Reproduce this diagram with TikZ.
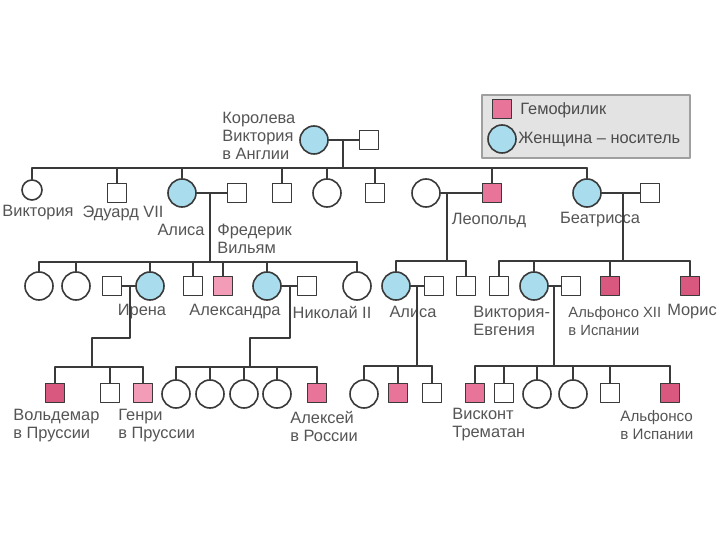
\documentclass[tikz,border=0pt]{standalone}
\usepackage{fontspec}
\setmainfont{Liberation Sans}
\definecolor{carrier}{HTML}{A9DDEE}
\definecolor{haemo}{HTML}{E8749A}
\definecolor{haemolt}{HTML}{F29CB8}
\definecolor{haemodk}{HTML}{D9587F}
\definecolor{linec}{HTML}{3A3A3A}
\definecolor{txt}{HTML}{555555}

\begin{document}
\begin{tikzpicture}[x=0.5bp,y=-0.5bp,line cap=round,line join=round,
    lin/.style={draw=linec,line width=0.8bp},
    male/.style={lin,rectangle,fill=white,minimum size=9.5bp,inner sep=0pt},
    fem/.style={lin,circle,fill=white,minimum size=14bp,inner sep=0pt},
    sick/.style={male,fill=haemo},
    carr/.style={fem,fill=carrier},
    lbl/.style={text=txt,font=\fontsize{8.2bp}{9bp}\selectfont,inner sep=0pt,align=left}]

\fill[white] (0,0) rectangle (720,540);
\useasboundingbox (0,0) rectangle (720,540);

% legend
\draw[fill=gray!22,draw=gray!75,line width=0.8bp] (482,95) rectangle (690,158);
\node[sick] (keym) at (502,109) {};
\node[carr] (keyf) at (502,139) {};
\node[lbl,anchor=west,text=black!70] (keymt) at (520,110) {Гемофилик};
\node[lbl,anchor=west,text=black!70] (keyft) at (518,139) {Женщина – носитель};

% generation 0
\node[carr] (qvic) at (314,140) {};
\node[male] (qalb) at (369,140) {};
\node[lbl,anchor=west] (qlab) at (222,136) {Королева\\Виктория\\в Англии};
\coordinate (j0) at (343,140);
\coordinate (b0) at (343,168);
\draw[lin] (qvic) -- (qalb);
\draw[lin] (j0) -- (b0);

% generation 1
\node[fem,minimum size=10bp] (vict) at (32,190) {};
\node[male] (edw) at (117,193) {};
\node[carr] (alice) at (182,193) {};
\node[male] (fred) at (237,193) {};
\node[male] (alf) at (282,193) {};
\node[fem] (hel) at (327,193) {};
\node[male] (art) at (375,193) {};
\node[fem] (hlw) at (426,193) {};
\node[sick] (leo) at (492,193) {};
\node[carr] (bea) at (587,193) {};
\node[male] (hen) at (650,193) {};

\draw[lin] (vict |- b0) -- (bea |- b0);
\foreach \n in {vict,edw,alice,alf,hel,art,leo,bea}
    \draw[lin] (\n) -- (\n |- b0);

\node[lbl] (victl) at (38,213) {Виктория};
\node[lbl] (edwl) at (123,213) {Эдуард VII};
\node[lbl] (alicel) at (181,230) {Алиса};
\node[lbl,anchor=west] (fredl) at (217,239) {Фредерик\\Вильям};
\node[lbl] (leol) at (489,220) {Леопольд};
\node[lbl] (beal) at (600,220) {Беатрисса};

\coordinate (j1) at (210,193);
\coordinate (b1) at (210,262);
\coordinate (j2) at (447,193);
\coordinate (b2) at (447,261);
\coordinate (j3) at (623,193);
\coordinate (b3) at (623,261);
\draw[lin] (alice) -- (fred);
\draw[lin] (hlw) -- (leo);
\draw[lin] (bea) -- (hen);
\draw[lin] (j1) -- (b1);
\draw[lin] (j2) -- (b2);
\draw[lin] (j3) -- (b3);

% generation 2
\node[fem] (a1) at (39,286) {};
\node[fem] (a2) at (76,286) {};
\node[male] (irh) at (112,286) {};
\node[carr] (ire) at (150,286) {};
\node[male] (ern) at (193,286) {};
\node[male,fill=haemolt] (fri) at (223,286) {};
\node[carr] (alx) at (267,286) {};
\node[male] (nik) at (307,286) {};
\node[fem] (a9) at (357,286) {};

\node[carr] (ali2) at (396,286) {};
\node[male] (alh) at (434,286) {};
\node[male] (l3) at (466,286) {};

\node[male] (bsq) at (499,286) {};
\node[carr] (ve) at (534,286) {};
\node[male] (vh) at (571,286) {};
\node[sick,fill=haemodk] (lp) at (610,286) {};
\node[sick,fill=haemodk] (mor) at (690,286) {};

\draw[lin] (a1 |- b1) -- (a9 |- b1);
\foreach \n in {a1,a2,ire,ern,fri,alx,a9}
    \draw[lin] (\n) -- (\n |- b1);
\draw[lin] (ali2 |- b2) -- (l3 |- b2);
\foreach \n in {ali2,l3}
    \draw[lin] (\n) -- (\n |- b2);
\draw[lin] (bsq |- b3) -- (mor |- b3);
\foreach \n in {bsq,ve,lp,mor}
    \draw[lin] (\n) -- (\n |- b3);

\node[lbl] (irel) at (142,312) {Ирена};
\node[lbl] (alxl) at (235,312) {Александра};
\node[lbl] (nikl) at (332,312) {Николай II};
\node[lbl] (ali2l) at (413,312) {Алиса};
\node[lbl,anchor=west] (vel) at (473,321) {Виктория-\\Евгения};
\node[lbl,anchor=west,font=\fontsize{7.4bp}{9bp}\selectfont] (vhl) at (568,321) {Альфонсо XII\\в Испании};
\node[lbl] (morl) at (692,312) {Морис};

\coordinate (jI) at (130,286);
\coordinate (kI) at (92,338);
\coordinate (bI) at (92,367);
\coordinate (jA) at (290,286);
\coordinate (kA) at (250,338);
\coordinate (bA) at (250,367);
\coordinate (jL) at (417,286);
\coordinate (bL) at (417,366);
\coordinate (jV) at (554,286);
\coordinate (bV) at (554,366);
\draw[lin] (irh) -- (ire);
\draw[lin] (alx) -- (nik);
\draw[lin] (ali2) -- (alh);
\draw[lin] (ve) -- (vh);
\draw[lin] (jI) |- (kI) -- (bI);
\draw[lin] (jA) |- (kA) -- (bA);
\draw[lin] (jL) -- (bL);
\draw[lin] (jV) -- (bV);

% generation 3
\node[sick,fill=haemodk] (wal) at (55,393) {};
\node[male] (sig) at (110,393) {};
\node[male,fill=haemolt] (hr) at (143,393) {};

\node[fem] (o1) at (176,394) {};
\node[fem] (o2) at (210,394) {};
\node[fem] (o3) at (244,394) {};
\node[fem] (o4) at (277,394) {};
\node[sick] (alexei) at (317,393) {};

\node[fem] (r1) at (364,394) {};
\node[sick] (r2) at (398,393) {};
\node[male] (r3) at (432,393) {};

\node[sick] (v1) at (475,393) {};
\node[male] (v2) at (504,393) {};
\node[fem] (v3) at (537,394) {};
\node[fem] (v4) at (573,394) {};
\node[male] (v5) at (610,393) {};
\node[sick,fill=haemodk] (v6) at (670,393) {};

\draw[lin] (wal |- bI) -- (hr |- bI);
\foreach \n in {wal,sig,hr}
    \draw[lin] (\n) -- (\n |- bI);
\draw[lin] (o1 |- bA) -- (alexei |- bA);
\foreach \n in {o1,o2,o3,o4,alexei}
    \draw[lin] (\n) -- (\n |- bA);
\draw[lin] (r1 |- bL) -- (r3 |- bL);
\foreach \n in {r1,r2,r3}
    \draw[lin] (\n) -- (\n |- bL);
\draw[lin] (v1 |- bV) -- (v6 |- bV);
\foreach \n in {v1,v2,v3,v4,v5,v6}
    \draw[lin] (\n) -- (\n |- bV);

\node[lbl,anchor=west] (wall) at (13,426) {Вольдемар\\в Пруссии};
\node[lbl,anchor=west] (hrl) at (118,426) {Генри\\в Пруссии};
\node[lbl,anchor=west] (alexeil) at (290,426) {Алексей\\в России};
\node[lbl,anchor=west] (v1l) at (452,425) {Висконт\\Трематан};
\node[lbl,anchor=west,font=\fontsize{7.6bp}{9bp}\selectfont] (v6l) at (620,425) {Альфонсо\\в Испании};

\end{tikzpicture}
\end{document}
